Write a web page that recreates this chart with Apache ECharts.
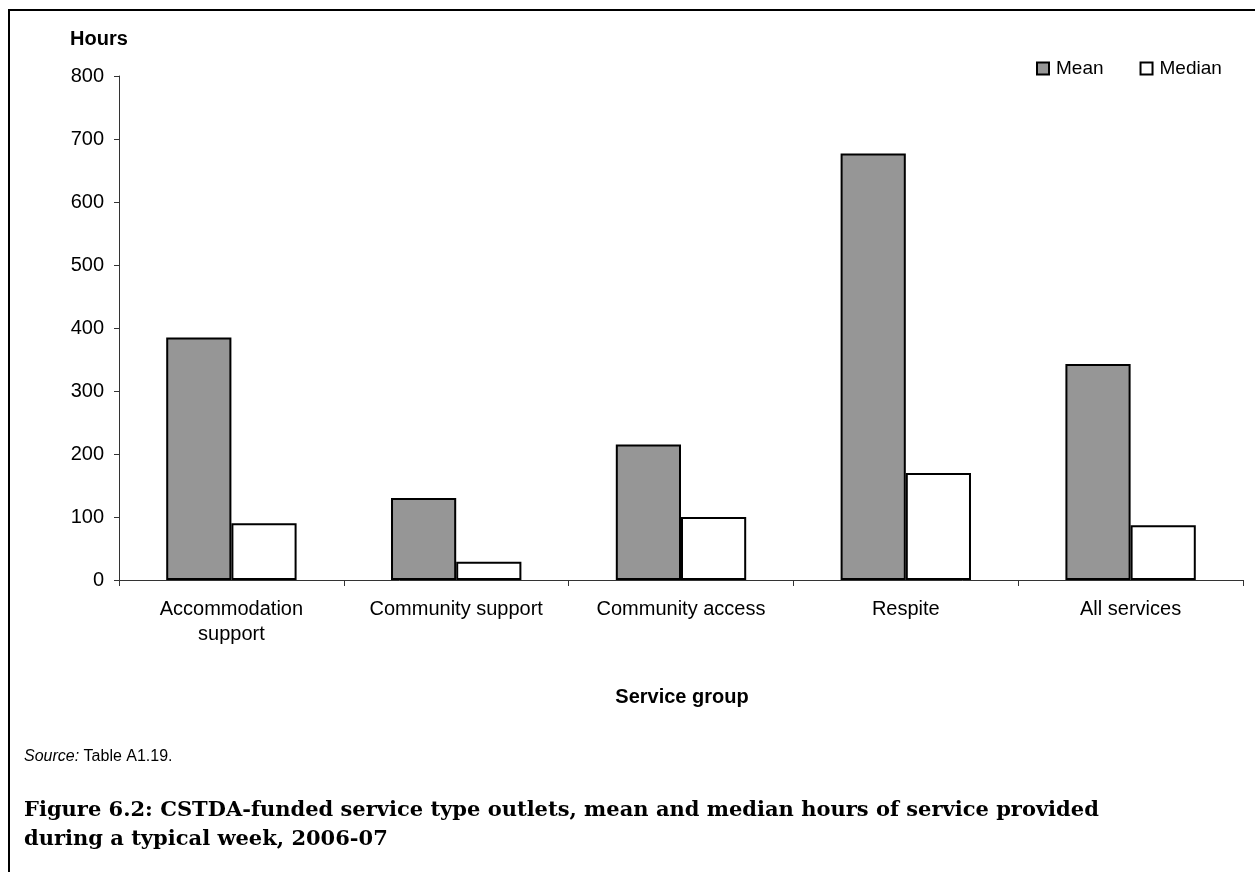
<!DOCTYPE html>
<html>
<head>
<meta charset="utf-8">
<script src="https://cdn.jsdelivr.net/npm/echarts@6/dist/echarts.min.js"></script>
<style>
  html, body { margin: 0; padding: 0; background: #fff; }
  #chart { width: 1255px; height: 872px; }
</style>
</head>
<body>
<div id="chart"></div>
<script>
// service groups along the x axis
const categories = ['Accommodation\nsupport', 'Community support', 'Community access', 'Respite', 'All services'];
// hours per typical week
const meanHours = [385, 130, 215, 677, 343];
const medianHours = [90, 29, 100, 170, 87];
const seriesNames = ['Mean', 'Median'];

const chart = echarts.init(document.getElementById('chart'));
const font = 'Liberation Sans, Arial, sans-serif';

const option = {
    backgroundColor: '#fff',
    animation: false,
    grid: { left: 119, right: 12, top: 76, bottom: 292 },
    legend: {
        left: 1031,
        top: 54,
        itemWidth: 12,
        itemHeight: 12,
        itemGap: 36,
        icon: 'rect',
        textStyle: { fontFamily: font, fontSize: 19, color: '#000', padding: [0, 0, 0, 2] },
        data: seriesNames
    },
    xAxis: {
        type: 'category',
        data: categories,
        axisLine: { lineStyle: { color: '#333', width: 1 } },
        axisTick: { show: true, length: 6, lineStyle: { color: '#333' } },
        axisLabel: {
            interval: 0,
            margin: 17,
            fontFamily: font,
            fontSize: 20,
            lineHeight: 25,
            color: '#000'
        },
        splitLine: { show: false }
    },
    yAxis: {
        type: 'value',
        min: 0,
        max: 800,
        interval: 100,
        axisLine: { show: true, lineStyle: { color: '#333', width: 1 } },
        axisTick: { show: true, length: 5, lineStyle: { color: '#333' } },
        axisLabel: { margin: 15, fontFamily: font, fontSize: 20, color: '#000' },
        splitLine: { show: false }
    },
    series: [
        {
            name: seriesNames[0],
            type: 'bar',
            data: meanHours,
            barGap: '0%',
            barCategoryGap: '42%',
            itemStyle: { color: '#969696', borderColor: '#000', borderWidth: 2 }
        },
        {
            name: seriesNames[1],
            type: 'bar',
            data: medianHours,
            barGap: '0%',
            barCategoryGap: '42%',
            itemStyle: { color: '#fff', borderColor: '#000', borderWidth: 2 }
        }
    ],
    graphic: [
        {
            // figure frame: left and top edges only
            type: 'polyline',
            shape: { points: [[9, 872], [9, 10], [1255, 10]] },
            style: { stroke: '#000', lineWidth: 2, fill: null }
        },
        {
            type: 'text', x: 70, y: 39,
            style: { text: 'Hours', font: 'bold 20px ' + font, fill: '#000', verticalAlign: 'middle' }
        },
        {
            type: 'text', x: 682, y: 697,
            style: { text: 'Service group', font: 'bold 20px ' + font, fill: '#000', align: 'center', verticalAlign: 'middle' }
        },
        {
            type: 'text', x: 24, y: 757,
            style: {
                text: '{i|Source:} Table A1.19.',
                font: '16px ' + font,
                fill: '#000',
                verticalAlign: 'middle',
                rich: { i: { fontStyle: 'italic', fontSize: 16, fontFamily: font } }
            }
        },
        {
            type: 'text', x: 24, y: 825,
            style: {
                text: 'Figure 6.2: CSTDA-funded service type outlets, mean and median hours of service provided\nduring a typical week, 2006-07',
                font: 'bold 21px DejaVu Serif, serif',
                lineHeight: 29,
                fill: '#000',
                verticalAlign: 'middle'
            }
        }
    ]
};

chart.setOption(option);
window.addEventListener('resize', () => { chart.resize() });
</script>
</body>
</html>
